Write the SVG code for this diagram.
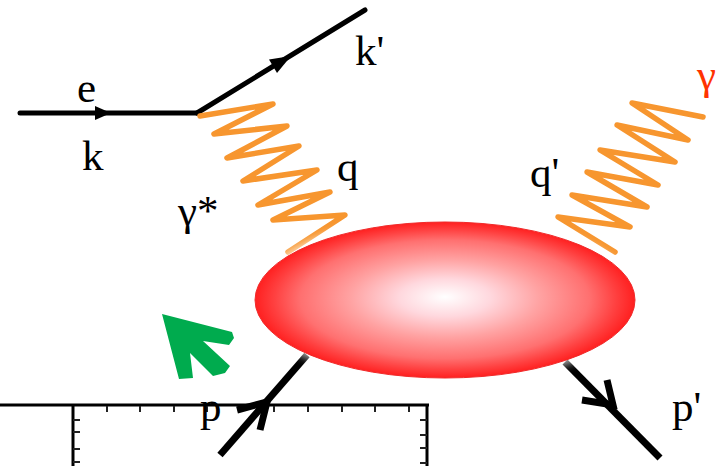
<svg xmlns="http://www.w3.org/2000/svg" width="719" height="466" viewBox="0 0 719 466">
<style>
.lbl{font-family:"Liberation Serif","Times New Roman",serif;font-size:43px;fill:#000}
.fer{stroke:#000;stroke-width:5;fill:none;stroke-linecap:round}
.had{stroke:#000;stroke-width:7;fill:none;stroke-linecap:butt}
.pho{stroke:#f7962f;stroke-width:5.5;fill:none;stroke-linejoin:round;stroke-linecap:round}
.ax{stroke:#000;stroke-width:3;fill:none}
.tk{stroke:#222;stroke-width:2;fill:none}
</style>
<defs>
<radialGradient id="blobg" cx="0.5" cy="0.5" r="0.5" fx="0.5" fy="0.48">
<stop offset="0" stop-color="#ffffff"/>
<stop offset="0.24" stop-color="#ffd8de"/>
<stop offset="0.5" stop-color="#ffa2a2"/>
<stop offset="0.76" stop-color="#ff7070"/>
<stop offset="0.9" stop-color="#ff4040"/>
<stop offset="1" stop-color="#ff2020"/>
</radialGradient>
<filter id="blur" x="-20%" y="-40%" width="140%" height="180%"><feGaussianBlur stdDeviation="4"/></filter>
</defs>

<g id="ruler">
<line class="ax" x1="0" y1="405" x2="429" y2="405"/>
<line class="ax" x1="73" y1="404" x2="73" y2="466"/>
<line class="ax" x1="427" y1="404" x2="427" y2="466"/>
<path class="tk" d="M107,406v6M140,406v6M174,406v6M207,406v6M241,406v6M274,406v6M308,406v6M342,406v6M375,406v6M409,406v6"/>
<path class="tk" d="M73,420h7M73,432h7M73,449h7M73,462h7"/>
<path class="tk" d="M427,420h-7M427,435h-7M427,448h-7M427,463h-7"/>
</g>

<g id="connectors">
<line class="fer" x1="20" y1="113" x2="197" y2="113"/>
<polygon points="111,113 95,106 95,120" fill="#000"/>
<line class="fer" x1="197" y1="113" x2="365" y2="10"/>
<polygon points="291,56 269,59.5 277,73" fill="#000"/>
<polyline class="pho" points="200,116 273,104 214,134 287,126 227,158 299,146 243,181 317,170 258,205 330,192 273,220 345,215 288,252"/>
<polyline class="pho" points="703,117 632,103 688,140 617,125 675,162 600,150 658,185 587,172 647,207 572,195 630,227 558,217 615,252"/>
<line class="had" x1="220" y1="455" x2="307" y2="355"/>
<polyline class="had" points="237,410 267,402 260,430" stroke-linejoin="miter"/>
<line class="had" x1="565" y1="362" x2="660" y2="458"/>
<polyline class="had" points="582,400 613,405 607,380" stroke-linejoin="miter"/>
</g>

<g id="hadron">
<ellipse cx="445" cy="300" rx="193" ry="83" fill="#fff" opacity="0.7" filter="url(#blur)"/>
<ellipse cx="445" cy="300" rx="190" ry="78" fill="url(#blobg)" stroke="#f02a2a" stroke-width="1"/>
</g>

<g id="green-arrow">
<polygon points="162,314 232,332 234,338 229,345 203,341 230,366 225,373 213,376 190,353 193,378 179,379" fill="#00ab4e"/>
</g>

<g id="labels">
<text class="lbl" x="77" y="102">e</text>
<text class="lbl" x="82" y="170">k</text>
<text class="lbl" x="355" y="65">k'</text>
<text class="lbl" x="337" y="181">q</text>
<text class="lbl" x="178" y="225">γ*</text>
<text class="lbl" x="530" y="187">q'</text>
<text class="lbl" x="697" y="89" style="fill:#ff3300">γ</text>
<text class="lbl" x="200" y="421">p</text>
<text class="lbl" x="672" y="421">p'</text>
</g>
</svg>
